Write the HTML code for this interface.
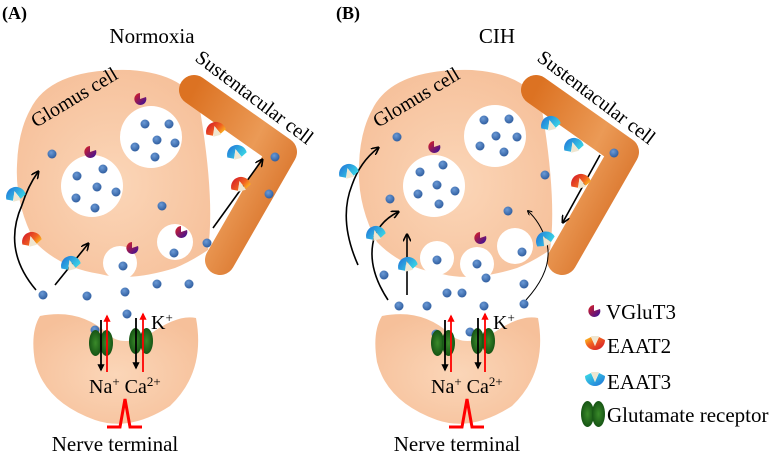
<!DOCTYPE html>
<html><head><meta charset="utf-8"><style>
html,body{margin:0;padding:0;background:#fff;}
svg{display:block;font-family:"Liberation Serif",serif;}
</style></head><body>
<svg width="778" height="456" viewBox="0 0 778 456" xmlns="http://www.w3.org/2000/svg">
<defs>
<radialGradient id="cell" cx="0.5" cy="0.55" r="0.6"><stop offset="0" stop-color="#fbd6b8"/><stop offset="1" stop-color="#f6c09a"/></radialGradient>
<linearGradient id="sus" x1="0" y1="0" x2="1" y2="1"><stop offset="0" stop-color="#dc7222"/><stop offset="0.5" stop-color="#eb9a56"/><stop offset="1" stop-color="#d2651a"/></linearGradient>
<radialGradient id="dot" cx="0.4" cy="0.35" r="0.7"><stop offset="0" stop-color="#6b9ad6"/><stop offset="1" stop-color="#2c5a9c"/></radialGradient>
<linearGradient id="e3" x1="0" y1="0" x2="1" y2="1"><stop offset="0" stop-color="#1e6fd8"/><stop offset="1" stop-color="#3ee0e6"/></linearGradient>
<linearGradient id="e2" x1="0" y1="0" x2="1" y2="1"><stop offset="0" stop-color="#d0102a"/><stop offset="0.6" stop-color="#f06020"/><stop offset="1" stop-color="#ffd020"/></linearGradient>
<linearGradient id="vg" x1="0" y1="0" x2="1" y2="1"><stop offset="0" stop-color="#e02020"/><stop offset="1" stop-color="#3010a0"/></linearGradient>
<radialGradient id="gr" cx="0.5" cy="0.5" r="0.6"><stop offset="0" stop-color="#3a8a2a"/><stop offset="1" stop-color="#0f4a10"/></radialGradient>
<marker id="ah" viewBox="0 0 10 10" refX="8" refY="5" markerWidth="5" markerHeight="5" orient="auto"><path d="M0,0 L10,5 L0,10" fill="none" stroke="#000" stroke-width="2"/></marker>
<marker id="ahr" viewBox="0 0 10 10" refX="8" refY="5" markerWidth="4" markerHeight="4" orient="auto"><path d="M0,0 L10,5 L0,10 Z" fill="#f00"/></marker>
<marker id="ahk" viewBox="0 0 10 10" refX="8" refY="5" markerWidth="4" markerHeight="4" orient="auto"><path d="M0,0 L10,5 L0,10 Z" fill="#000"/></marker>
<g id="d"><circle r="4.5" fill="url(#dot)"/></g>
<g id="t3"><path d="M-10,4 A10,10 0 1 1 10,4 L4,7 L0,-2 L-4,7 Z" fill="url(#e3)"/><path d="M-4,8 L0,-2 L4,8 Z" fill="#efe6d0"/></g>
<g id="t2"><path d="M-10,4 A10,10 0 1 1 10,4 L4,7 L0,-2 L-4,7 Z" fill="url(#e2)"/><path d="M-4,8 L0,-2 L4,8 Z" fill="#efe6d0"/></g>
<g id="vgl"><path d="M0,0 L6,-2 A6,6 0 1 1 0,-6 Z" fill="url(#vg)"/></g>
<g id="rec"><ellipse cx="-5.5" cy="0" rx="6.5" ry="13" fill="url(#gr)"/><ellipse cx="5.5" cy="0" rx="6.5" ry="13" fill="url(#gr)"/></g>
<g id="cells">
<path d="M30,110 Q50,68 130,70 Q188,74 200,110 Q215,200 208,250 Q190,262 175,268 Q130,282 100,274 Q60,268 35,242 Q15,205 17,165 Q18,132 30,110 Z" fill="url(#cell)"/>
<path d="M194,90 L282,152 L220,260" fill="none" stroke="url(#sus)" stroke-width="30" stroke-linecap="round" stroke-linejoin="round"/>
<path d="M40,316 Q80,308 108,334 Q122,348 150,334 Q178,314 196,318 Q206,372 170,406 Q130,432 95,420 Q45,402 35,362 Q30,332 40,316 Z" fill="url(#cell)"/>
<text x="0" y="0" font-size="20" transform="translate(36,128) rotate(-31)">Glomus cell</text>
<text x="0" y="0" font-size="20" transform="translate(194,60) rotate(37)">Sustentacular cell</text>
<text x="115" y="451" font-size="21" text-anchor="middle">Nerve terminal</text>
<path d="M107,427 L120,427 L125,399 L130,427 L142,427" fill="none" stroke="#f00" stroke-width="3"/>
<text x="89" y="393" font-size="20">Na<tspan dy="-7" font-size="13">+</tspan><tspan dy="7"> Ca</tspan><tspan dy="-7" font-size="13">2+</tspan></text>
<text x="151" y="329" font-size="20">K<tspan dy="-7" font-size="13">+</tspan></text>
</g>
</defs>

<text x="2" y="19" font-size="18" font-weight="bold">(A)</text>
<text x="336" y="19" font-size="18" font-weight="bold">(B)</text>
<text x="152" y="43" font-size="21" text-anchor="middle">Normoxia</text>
<text x="497" y="43" font-size="21" text-anchor="middle">CIH</text>

<!-- Panel A -->
<use href="#cells"/>
<circle cx="92" cy="186" r="31" fill="#fff"/>
<circle cx="151" cy="137" r="31" fill="#fff"/>
<circle cx="120" cy="263" r="17" fill="#fff"/>
<circle cx="175" cy="242" r="18" fill="#fff"/>
<g>
<use href="#d" x="77" y="176"/><use href="#d" x="103" y="169"/><use href="#d" x="97" y="187"/><use href="#d" x="116" y="192"/><use href="#d" x="76" y="198"/><use href="#d" x="95" y="208"/>
<use href="#d" x="145" y="124"/><use href="#d" x="169" y="124"/><use href="#d" x="157" y="140"/><use href="#d" x="175" y="143"/><use href="#d" x="135" y="147"/><use href="#d" x="155" y="157"/>
<use href="#d" x="52" y="154"/><use href="#d" x="162" y="206"/><use href="#d" x="275" y="157"/><use href="#d" x="269" y="194"/><use href="#d" x="207" y="243"/><use href="#d" x="174" y="253"/><use href="#d" x="123" y="266"/><use href="#d" x="157" y="284"/><use href="#d" x="189" y="284"/><use href="#d" x="43" y="295"/><use href="#d" x="87" y="296"/><use href="#d" x="125" y="292"/><use href="#d" x="127" y="314"/><use href="#d" x="95" y="330"/>
</g>
<use href="#vgl" x="140" y="99"/><use href="#vgl" x="90" y="152"/><use href="#vgl" x="132" y="248"/><use href="#vgl" x="181" y="232"/>
<path d="M36,290 Q2,250 22,205 Q28,186 38,172" fill="none" stroke="#000" stroke-width="1.6" marker-end="url(#ah)"/>
<line x1="55" y1="285" x2="88" y2="244" stroke="#000" stroke-width="1.6" marker-end="url(#ah)"/>
<line x1="213" y1="228" x2="262" y2="160" stroke="#000" stroke-width="1.6" marker-end="url(#ah)"/>
<use href="#t3" x="15" y="193" transform="rotate(-15 15 193)"/>
<use href="#t2" x="31" y="238" transform="rotate(-15 31 238)"/>
<use href="#t3" x="70" y="262" transform="rotate(-15 70 262)"/>
<use href="#t2" x="215" y="128" transform="rotate(-15 215 128)"/>
<use href="#t3" x="236" y="151" transform="rotate(-15 236 151)"/>
<use href="#t2" x="240" y="183" transform="rotate(-15 240 183)"/>
<use href="#rec" x="101" y="343"/><use href="#rec" x="141" y="341"/>
<line x1="101" y1="320" x2="101" y2="370" stroke="#000" stroke-width="1.8" marker-end="url(#ahk)"/>
<line x1="107" y1="372" x2="107" y2="316" stroke="#f00" stroke-width="1.8" marker-end="url(#ahr)"/>
<line x1="136" y1="318" x2="136" y2="368" stroke="#000" stroke-width="1.8" marker-end="url(#ahk)"/>
<line x1="143" y1="372" x2="143" y2="314" stroke="#f00" stroke-width="1.8" marker-end="url(#ahr)"/>

<!-- Panel B -->
<use href="#cells" x="342"/>
<circle cx="434" cy="186" r="31" fill="#fff"/>
<circle cx="495" cy="136" r="31" fill="#fff"/>
<circle cx="437" cy="258" r="17" fill="#fff"/>
<circle cx="477" cy="264" r="17" fill="#fff"/>
<circle cx="515" cy="246" r="18" fill="#fff"/>
<g>
<use href="#d" x="420" y="172"/><use href="#d" x="443" y="165"/><use href="#d" x="437" y="185"/><use href="#d" x="455" y="191"/><use href="#d" x="418" y="194"/><use href="#d" x="439" y="204"/>
<use href="#d" x="484" y="120"/><use href="#d" x="509" y="119"/><use href="#d" x="496" y="136"/><use href="#d" x="517" y="137"/><use href="#d" x="480" y="146"/><use href="#d" x="504" y="152"/>
<use href="#d" x="397" y="137"/><use href="#d" x="390" y="199"/><use href="#d" x="545" y="175"/><use href="#d" x="508" y="211"/><use href="#d" x="614" y="153"/><use href="#d" x="437" y="260"/><use href="#d" x="477" y="264"/><use href="#d" x="522" y="252"/><use href="#d" x="384" y="275"/><use href="#d" x="399" y="306"/><use href="#d" x="427" y="306"/><use href="#d" x="447" y="293"/><use href="#d" x="462" y="293"/><use href="#d" x="484" y="306"/><use href="#d" x="486" y="278"/><use href="#d" x="524" y="284"/><use href="#d" x="524" y="304"/><use href="#d" x="436" y="334"/><use href="#d" x="470" y="332"/>
</g>
<use href="#vgl" x="434" y="147"/><use href="#vgl" x="480" y="238"/>
<path d="M358,265 Q338,220 352,185 Q360,162 378,148" fill="none" stroke="#000" stroke-width="1.6" marker-end="url(#ah)"/>
<path d="M388,300 Q365,265 375,235 Q382,220 398,212" fill="none" stroke="#000" stroke-width="1.6" marker-end="url(#ah)"/>
<line x1="407" y1="295" x2="407" y2="235" stroke="#000" stroke-width="1.6" marker-end="url(#ah)"/>
<line x1="600" y1="155" x2="563" y2="222" stroke="#000" stroke-width="1.6" marker-end="url(#ah)"/>
<path d="M526,300 Q555,268 546,240 Q540,222 528,211" fill="none" stroke="#000" stroke-width="1" marker-end="url(#ah)"/>
<use href="#t3" x="348" y="170" transform="rotate(-15 348 170)"/>
<use href="#t3" x="375" y="232" transform="rotate(-15 375 232)"/>
<use href="#t3" x="407" y="263" transform="rotate(-15 407 263)"/>
<use href="#t3" x="550" y="122" transform="rotate(-15 550 122)"/>
<use href="#t3" x="573" y="144" transform="rotate(-15 573 144)"/>
<use href="#t2" x="580" y="180" transform="rotate(-15 580 180)"/>
<use href="#t3" x="544" y="238" transform="rotate(-30 544 238)"/>
<use href="#rec" x="443" y="343"/><use href="#rec" x="483" y="341"/>
<line x1="445" y1="320" x2="445" y2="370" stroke="#000" stroke-width="1.8" marker-end="url(#ahk)"/>
<line x1="451" y1="372" x2="451" y2="316" stroke="#f00" stroke-width="1.8" marker-end="url(#ahr)"/>
<line x1="478" y1="318" x2="478" y2="368" stroke="#000" stroke-width="1.8" marker-end="url(#ahk)"/>
<line x1="485" y1="372" x2="485" y2="314" stroke="#f00" stroke-width="1.8" marker-end="url(#ahr)"/>

<!-- Legend -->
<use href="#vgl" x="594" y="311"/>
<text x="606" y="319" font-size="21">VGluT3</text>
<use href="#t2" x="595" y="344" transform="rotate(180 595 344)"/>
<text x="607" y="353" font-size="21">EAAT2</text>
<use href="#t3" x="595" y="380" transform="rotate(180 595 380)"/>
<text x="607" y="389" font-size="21">EAAT3</text>
<use href="#rec" x="593" y="414"/>
<text x="607" y="422" font-size="21">Glutamate receptor</text>
</svg>
</body></html>
